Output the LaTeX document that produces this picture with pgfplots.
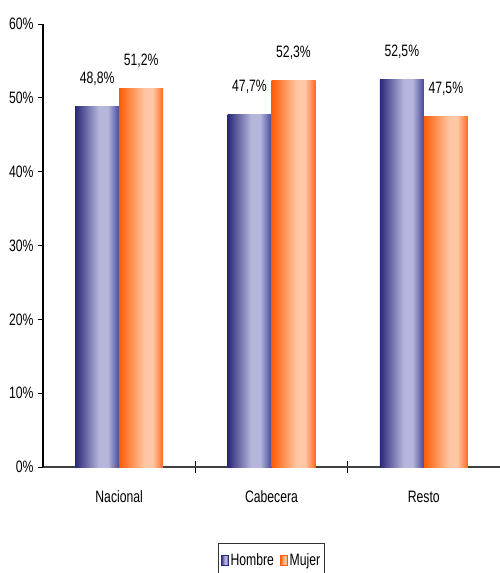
\documentclass[border=0pt]{standalone}
\usepackage{fontspec}
\setmainfont{Liberation Sans}[FakeStretch=0.74]
\usepackage{pgfplots}
\pgfplotsset{compat=1.18}
\definecolor{hdark}{RGB}{40,40,120}
\definecolor{hlight}{RGB}{182,182,220}
\definecolor{hright}{RGB}{72,72,150}
\definecolor{odark}{RGB}{255,92,5}
\definecolor{olight}{RGB}{255,200,165}
\definecolor{oright}{RGB}{255,105,35}
\pgfdeclarehorizontalshading{hombre}{100bp}{color(0bp)=(hdark); color(25bp)=(hdark); color(52bp)=(hlight); color(62bp)=(hlight); color(75bp)=(hright); color(100bp)=(hright)}
\pgfdeclarehorizontalshading{mujer}{100bp}{color(0bp)=(odark); color(25bp)=(odark); color(54bp)=(olight); color(63bp)=(olight); color(75bp)=(oright); color(100bp)=(oright)}
\newcommand{\ff}{\fontsize{16.5bp}{19bp}\selectfont}
\pgfplotsset{
  hbar/.style={ybar, bar width=44bp, bar shift=-22bp, draw=none, shade, shading=hombre,
    every node near coord/.append style={xshift=-22bp}},
  mbar/.style={ybar, bar width=44bp, bar shift=22bp, draw=none, shade, shading=mujer,
    every node near coord/.append style={xshift=22bp}},
}
\begin{document}
\begin{tikzpicture}
\useasboundingbox (0,0) rectangle (500bp,573bp);
\begin{axis}[
  at={(43bp,106bp)}, anchor=south west,
  scale only axis, width=457bp, height=443bp,
  xmin=-0.5, xmax=2.5, ymin=0, ymax=60,
  axis lines*=left,
  x axis line style={draw=black!75, line width=2bp},
  y axis line style={draw=black, line width=1.2bp},
  xtick={0,1,2}, xticklabels={Nacional,Cabecera,Resto},
  major x tick style={draw=none},
  minor xtick={0.5,1.5,2.5},
  minor x tick style={black, line width=1bp},
  minor tick length=11bp, xtick align=center,
  ytick={0,10,...,60},
  yticklabel={\pgfmathprintnumber{\tick}\%},
  ytick align=outside, major tick length=5bp,
  y tick style={black, line width=1bp},
  /pgf/number format/assume math mode=true,
  tick label style={font=\ff, text=black},
  xticklabel style={yshift=-18bp},
  yticklabel style={xshift=-1bp},
  nodes near coords={\pgfmathprintnumber[fixed, fixed zerofill, precision=1, use comma, assume math mode=true]{\pgfplotspointmeta}\%},
  every node near coord/.append style={font=\ff, text=black, anchor=base, inner sep=0pt, yshift=23bp},
  legend columns=2,
  legend style={at={(axis description cs:0.5,-0.1716)}, anchor=north, draw=black!80, line width=1.2bp, font=\ff, inner xsep=2bp, inner ysep=8bp,
    /tikz/every even column/.append style={column sep=4bp}},
  legend cell align=left,
]
\addplot[hbar,
  legend image code/.code={\draw[shade, shading=hombre, draw=hdark, line width=0.8bp] (0bp,-5bp) rectangle (7bp,5bp);}]
  coordinates {(0,48.8)};
\addplot[mbar,
  legend image code/.code={\draw[shade, shading=mujer, draw=odark, line width=0.8bp] (0bp,-5bp) rectangle (7bp,5bp);}]
  coordinates {(0,51.2)};
\addplot[hbar, forget plot] coordinates {(1,47.7)};
\addplot[mbar, forget plot] coordinates {(1,52.3)};
\addplot[hbar, forget plot] coordinates {(2,52.5)};
\addplot[mbar, forget plot] coordinates {(2,47.5)};
\legend{Hombre,Mujer}
\end{axis}
\end{tikzpicture}
\end{document}
